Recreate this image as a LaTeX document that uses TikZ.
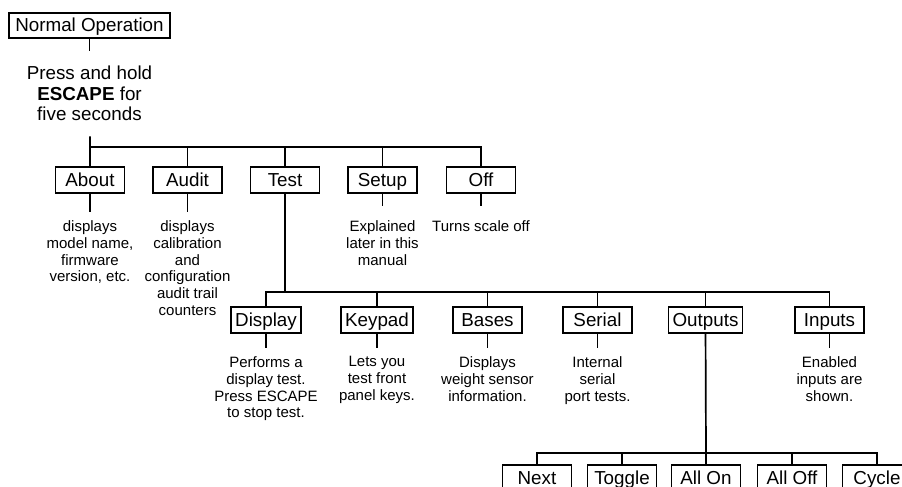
\documentclass[tikz,border=0pt]{standalone}
\usepackage{fontspec}
\setmainfont{Liberation Sans}
\usetikzlibrary{positioning}
\tikzset{
  mbox/.style  ={draw, line width=0.85pt, inner xsep=2pt, inner ysep=0pt,
                 minimum width=34.5pt, minimum height=13pt,
                 text height=8.2pt, text depth=1.9pt,
                 font=\fontsize{9.4}{10.25}\selectfont},
  mnote/.style ={align=center, inner xsep=0pt, inner ysep=4.2pt,
                 font=\fontsize{7.5}{8.4}\selectfont},
  mline/.style ={line width=0.85pt},
}

\begin{document}
\begin{tikzpicture}[x=0.5pt, y=-0.5pt]
\useasboundingbox (0,0) rectangle (902,487);

\node[mbox, minimum width=80.5pt, minimum height=12.5pt] (normal) at (89.5,25.5) {Normal Operation};
\node[mnote, font=\fontsize{9.4}{10.25}\selectfont, inner ysep=7.5pt, below=6pt of normal] (hold)
  {Press and hold\\\textbf{ESCAPE} for\\five seconds};

% first level menu
\node[mbox] (about) at (90,180)    {About};
\node[mbox] (audit) at (187.5,180) {Audit};
\node[mbox] (test)  at (285,180)   {Test};
\node[mbox] (setup) at (382.5,180) {Setup};
\node[mbox] (off)   at (481,180)   {Off};

\node[mnote, below=9pt of about] (aboutnote) {displays\\model name,\\firmware\\version, etc.};
\node[mnote, below=9pt of audit] (auditnote)
  {displays\\calibration\\and\\configuration\\audit trail\\counters};
\node[mnote, below=9pt of setup] (setupnote) {Explained\\later in this\\manual};
\node[mnote, below=9pt of off]   (offnote)   {Turns scale off};

% test menu
\node[mbox] (display) at (266,320)   {Display};
\node[mbox] (keypad)  at (377,320)   {Keypad};
\node[mbox] (bases)   at (487.5,320) {Bases};
\node[mbox] (serial)  at (597.5,320) {Serial};
\node[mbox] (outputs) at (705.5,320) {Outputs};
\node[mbox] (inputs)  at (829.5,320) {Inputs};

\node[mnote, below=7pt of display] (displaynote) {Performs a\\display test.\\Press ESCAPE\\to stop test.};
\node[mnote, below=7pt of keypad]  (keypadnote)  {Lets you\\test front\\panel keys.};
\node[mnote, below=7pt of bases]   (basesnote)   {Displays\\weight sensor\\information.};
\node[mnote, below=7pt of serial]  (serialnote)  {Internal\\serial\\port tests.};
\node[mnote, below=7pt of inputs]  (inputsnote)  {Enabled\\inputs are\\shown.};

% outputs menu (runs off the page)
\node[mbox] (next)   at (537,478) {Next};
\node[mbox] (toggle) at (622,478) {Toggle};
\node[mbox] (allon)  at (706,478) {All On};
\node[mbox] (alloff) at (792,478) {All Off};
\node[mbox] (cycle)  at (877,478) {Cycle};

\coordinate (bus1) at (90,147);
\coordinate (bus2) at (285,292);
\coordinate (bus3) at (706,453);

\draw[mline] (normal) -- (hold);
\draw[mline] (hold) -- (bus1);
\foreach \n in {about,audit,test,setup,off}
  \draw[mline] (bus1) -| (\n);

\draw[mline] (about) -- (aboutnote);
\draw[mline] (audit) -- (auditnote);
\draw[mline, shorten >=3pt] (setup) -- (setupnote);
\draw[mline, shorten >=3pt] (off) -- (offnote);

\draw[mline] (test) -- (bus2);
\foreach \n in {display,keypad,bases,serial,outputs,inputs}
  \draw[mline] (bus2) -| (\n);

\draw[mline] (display) -- (displaynote);
\draw[mline] (keypad) -- (keypadnote);
\draw[mline] (bases) -- (basesnote);
\draw[mline] (serial) -- (serialnote);
\draw[mline] (inputs) -- (inputsnote);

\draw[mline] (outputs) -- (bus3);
\foreach \n in {next,toggle,allon,alloff,cycle}
  \draw[mline] (bus3) -| (\n);

\end{tikzpicture}
\end{document}
